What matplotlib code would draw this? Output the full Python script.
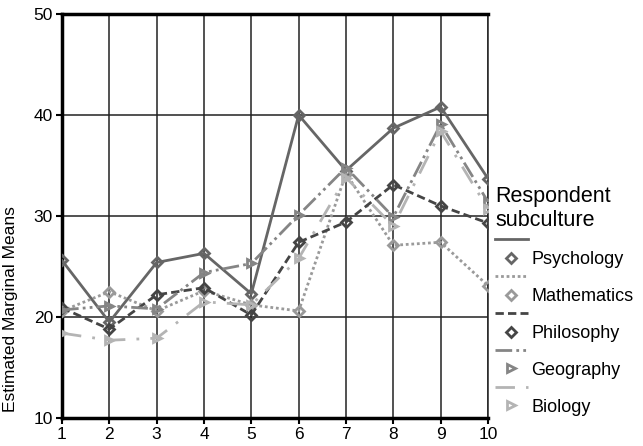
import matplotlib
matplotlib.use("Agg")
import matplotlib.pyplot as plt
from matplotlib.lines import Line2D

plt.rcParams["font.family"] = ["Liberation Sans", "DejaVu Sans"]

# Estimated marginal means per item, by respondent subculture
items = [1, 2, 3, 4, 5, 6, 7, 8, 9, 10]
psychology = [25.6, 19.5, 25.4, 26.3, 22.3, 40.0, 34.5, 38.7, 40.8, 33.7]
mathematics = [20.6, 22.5, 20.6, 22.6, 21.2, 20.6, 34.2, 27.1, 27.4, 23.1]
philosophy = [20.9, 18.8, 22.2, 22.9, 20.2, 27.4, 29.4, 33.1, 31.0, 29.3]
geography = [20.7, 21.1, 20.8, 24.4, 25.3, 30.1, 34.8, 29.9, 39.1, 31.4]
biology = [18.4, 17.7, 17.9, 21.5, 21.2, 25.8, 33.8, 29.0, 38.4, 30.7]

names = ["Psychology", "Mathematics", "Philosophy", "Geography", "Biology"]
series = [psychology, mathematics, philosophy, geography, biology]
colors = ["#666666", "#9a9a9a", "#454545", "#858585", "#b4b4b4"]
styles = ["-", (0, (1, 1)), (0, (3, 1.5)), (0, (6, 1.5, 1, 1.5, 1, 1.5)), (0, (7, 4, 1, 4))]
markers = ["D", "D", "D", ">", ">"]

fig = plt.figure(figsize=(6.43, 4.46), dpi=100)
ax = fig.add_axes([62 / 643, 1 - 418 / 446, 426 / 643, 404 / 446])

for vals, c, ls, m in zip(series, colors, styles, markers):
    ax.plot(items, vals, color=c, linestyle=ls, linewidth=2.0,
            marker=m, markersize=5.5, markerfacecolor="none",
            markeredgecolor=c, markeredgewidth=2.0, zorder=3)

ax.set_xlim(1, 10)
ax.set_ylim(10, 50)
ax.set_xticks(items)
ax.set_yticks([10, 20, 30, 40, 50])
ax.grid(True, color="#222222", linewidth=1.1)
ax.set_axisbelow(True)
ax.tick_params(labelsize=12.5, length=4, width=1.5, color="black", pad=2.5)

for side in ["left", "bottom", "top"]:
    ax.spines[side].set_linewidth(2.5)
    ax.spines[side].set_color("black")
ax.spines["right"].set_linewidth(1.1)
ax.spines["right"].set_color("#222222")

ax.set_ylabel("Estimated Marginal Means", fontsize=12.5)
ax.yaxis.set_label_coords(-0.103, 0.27)

# legend: line on one row, marker and name on the next
handles, labels = [], []
for name, c, ls, m in zip(names, colors, styles, markers):
    handles.append(Line2D([], [], color=c, linestyle=ls, linewidth=2.0))
    labels.append(" ")
    handles.append(Line2D([], [], color=c, linestyle="none", marker=m,
                          markersize=5.5, markerfacecolor="none",
                          markeredgecolor=c, markeredgewidth=2.0))
    labels.append(name)

leg = fig.legend(handles, labels, loc="upper left",
                 bbox_to_anchor=(495 / 643, 1 - 186 / 446),
                 frameon=False, fontsize=13, title="Respondent\nsubculture",
                 title_fontsize=15.5, alignment="left", handlelength=1.8,
                 handletextpad=0.2, labelspacing=0.08, borderpad=0,
                 borderaxespad=0)

fig.savefig("out.png", dpi=100)
